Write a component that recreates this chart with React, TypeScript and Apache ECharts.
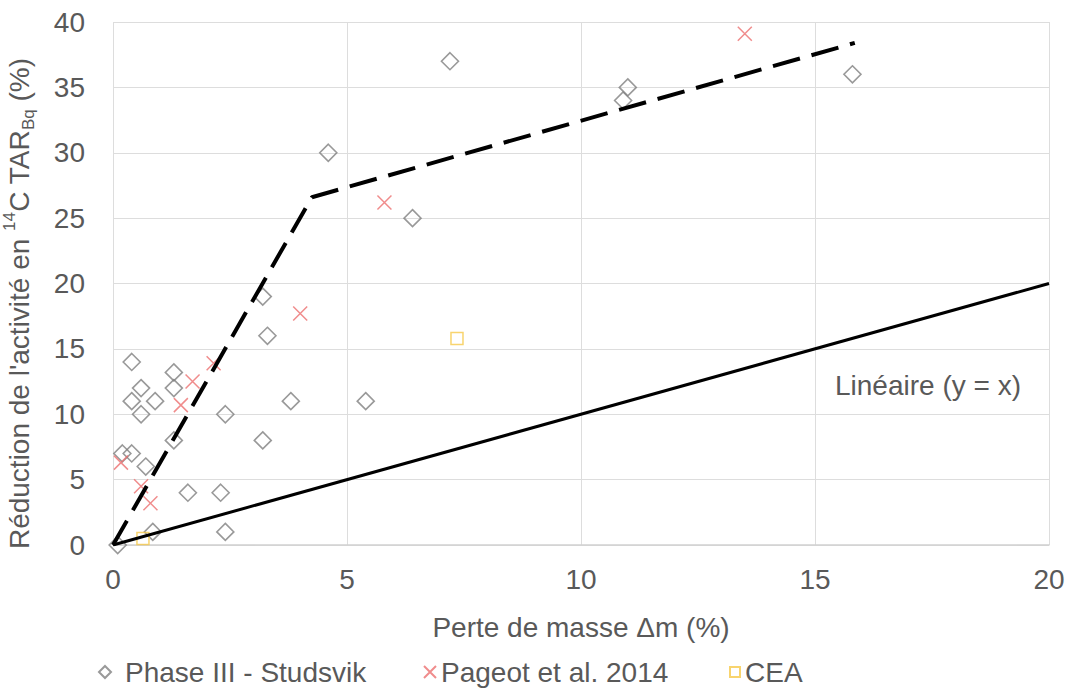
import React, { useEffect, useRef } from "react";
import * as echarts from "echarts";

const phaseIII: [number, number][] = [
  [0.1, 0], [0.2, 7], [0.4, 7], [0.4, 11], [0.4, 14], [0.6, 12], [0.6, 10],
  [0.9, 11], [0.7, 6], [0.85, 1], [1.3, 13.2], [1.3, 12], [1.3, 8], [1.6, 4],
  [2.3, 4], [2.4, 10], [2.4, 1], [3.2, 19], [3.2, 8], [3.3, 16], [3.8, 11],
  [4.6, 30], [5.4, 11], [6.4, 25], [7.2, 37], [10.9, 34], [11.0, 35], [15.8, 36],
];
const pageot: [number, number][] = [
  [0.17, 6.3], [0.6, 4.5], [0.8, 3.2], [1.45, 10.7], [1.7, 12.5], [2.15, 13.9],
  [4.0, 17.7], [5.8, 26.2], [13.5, 39.1],
];
const cea: [number, number][] = [
  [0.64, 0.5], [7.35, 15.8],
];
const trend: [number, number][] = [
  [0, 0], [4.25, 26.6], [15.85, 38.4],
];
const linear: [number, number][] = [
  [0, 0], [20, 20],
];
const xTicks = { min: 0, max: 20, interval: 5 };
const yTicks = { min: 0, max: 40, interval: 5 };

const FONT = "'Liberation Sans', Arial, sans-serif";
const TXT = "#595959";
const FS = 28;

export default function App() {
  const ref = useRef<HTMLDivElement>(null);
  useEffect(() => {
    if (!ref.current) return;
    const chart = echarts.init(ref.current, undefined, { renderer: "svg" });
    const legendBase = {
      bottom: 6,
      padding: 0,
      itemHeight: 12,
      itemGap: 0,
      textStyle: { fontSize: FS, color: TXT, fontFamily: FONT },
      selectedMode: false,
    };
    chart.setOption({
      animation: false,
      backgroundColor: "#ffffff",
      textStyle: { fontFamily: FONT },
      grid: {
        left: 113,
        right: 19,
        top: 22,
        bottom: 147,
        containLabel: false,
        outerBoundsMode: "none",
      },
      legend: [
        {
          ...legendBase,
          left: 98,
          itemWidth: 12,
          data: ["Phase III - Studsvik"],
          textStyle: { ...legendBase.textStyle, padding: [0, 0, 0, 9] },
        },
        { ...legendBase, left: 423, itemWidth: 12, data: ["Pageot et al. 2014"] },
        { ...legendBase, left: 729, itemWidth: 10, itemHeight: 10, data: ["CEA"] },
      ],
      xAxis: {
        type: "value",
        min: xTicks.min,
        max: xTicks.max,
        interval: xTicks.interval,
        name: "Perte de masse Δm (%)",
        nameLocation: "middle",
        nameGap: 68,
        nameTextStyle: { fontSize: FS, color: TXT, fontFamily: FONT },
        axisLine: { show: true, lineStyle: { color: "#d0d0d0", width: 1.5 } },
        axisTick: { show: false },
        axisLabel: { fontSize: FS, color: TXT, margin: 20, fontFamily: FONT },
        splitLine: { show: true, lineStyle: { color: "#dddddd", width: 1 } },
      },
      yAxis: {
        type: "value",
        min: yTicks.min,
        max: yTicks.max,
        interval: yTicks.interval,
        name: "Réduction de l'activité en {sup|14}C TAR{sub|Bq} (%)",
        nameLocation: "middle",
        nameGap: 76,
        nameTextStyle: {
          fontSize: FS,
          color: TXT,
          fontFamily: FONT,
          lineHeight: 36,
          padding: [0, 40, 0, 0],
          rich: {
            sup: { fontSize: 17, color: TXT, fontFamily: FONT, verticalAlign: "top", lineHeight: 36 },
            sub: { fontSize: 17, color: TXT, fontFamily: FONT, verticalAlign: "bottom", lineHeight: 36 },
          },
        },
        axisLine: { show: false },
        axisTick: { show: false },
        axisLabel: { fontSize: FS, color: TXT, margin: 28, fontFamily: FONT },
        splitLine: { show: true, lineStyle: { color: "#dddddd", width: 1 } },
      },
      series: [
        {
          name: "Linéaire",
          type: "line",
          data: linear,
          symbol: "none",
          lineStyle: { color: "#000000", width: 3 },
          silent: true,
          z: 3,
        },
        {
          name: "Tendance",
          type: "line",
          data: trend,
          symbol: "none",
          lineStyle: { color: "#000000", width: 4, type: [28, 12] },
          silent: true,
          z: 3,
        },
        {
          name: "Phase III - Studsvik",
          type: "scatter",
          data: phaseIII,
          symbol: "diamond",
          symbolSize: 17,
          itemStyle: { color: "rgba(255,255,255,0)", borderColor: "#7f7f7f", borderWidth: 1.6 },
          z: 2,
        },
        {
          name: "Pageot et al. 2014",
          type: "scatter",
          data: pageot,
          symbol: "path://M0,0L10,10M10,0L0,10",
          symbolSize: 14,
          itemStyle: { color: "rgba(255,255,255,0)", borderColor: "#ec6f6f", borderWidth: 1.5 },
          z: 2,
        },
        {
          name: "CEA",
          type: "scatter",
          data: cea,
          symbol: "rect",
          symbolSize: 12,
          itemStyle: { color: "rgba(255,255,255,0)", borderColor: "#f6c94a", borderWidth: 1.5 },
          z: 2,
        },
      ],
      graphic: [
        {
          type: "text",
          left: 835,
          top: 371,
          style: { text: "Linéaire (y = x)", fontSize: FS, fill: TXT, fontFamily: FONT },
        },
      ],
    });
    return () => chart.dispose();
  }, []);
  return (
    <div
      ref={ref}
      style={{ position: "fixed", left: 0, top: 0, width: 1068, height: 692 }}
    />
  );
}
